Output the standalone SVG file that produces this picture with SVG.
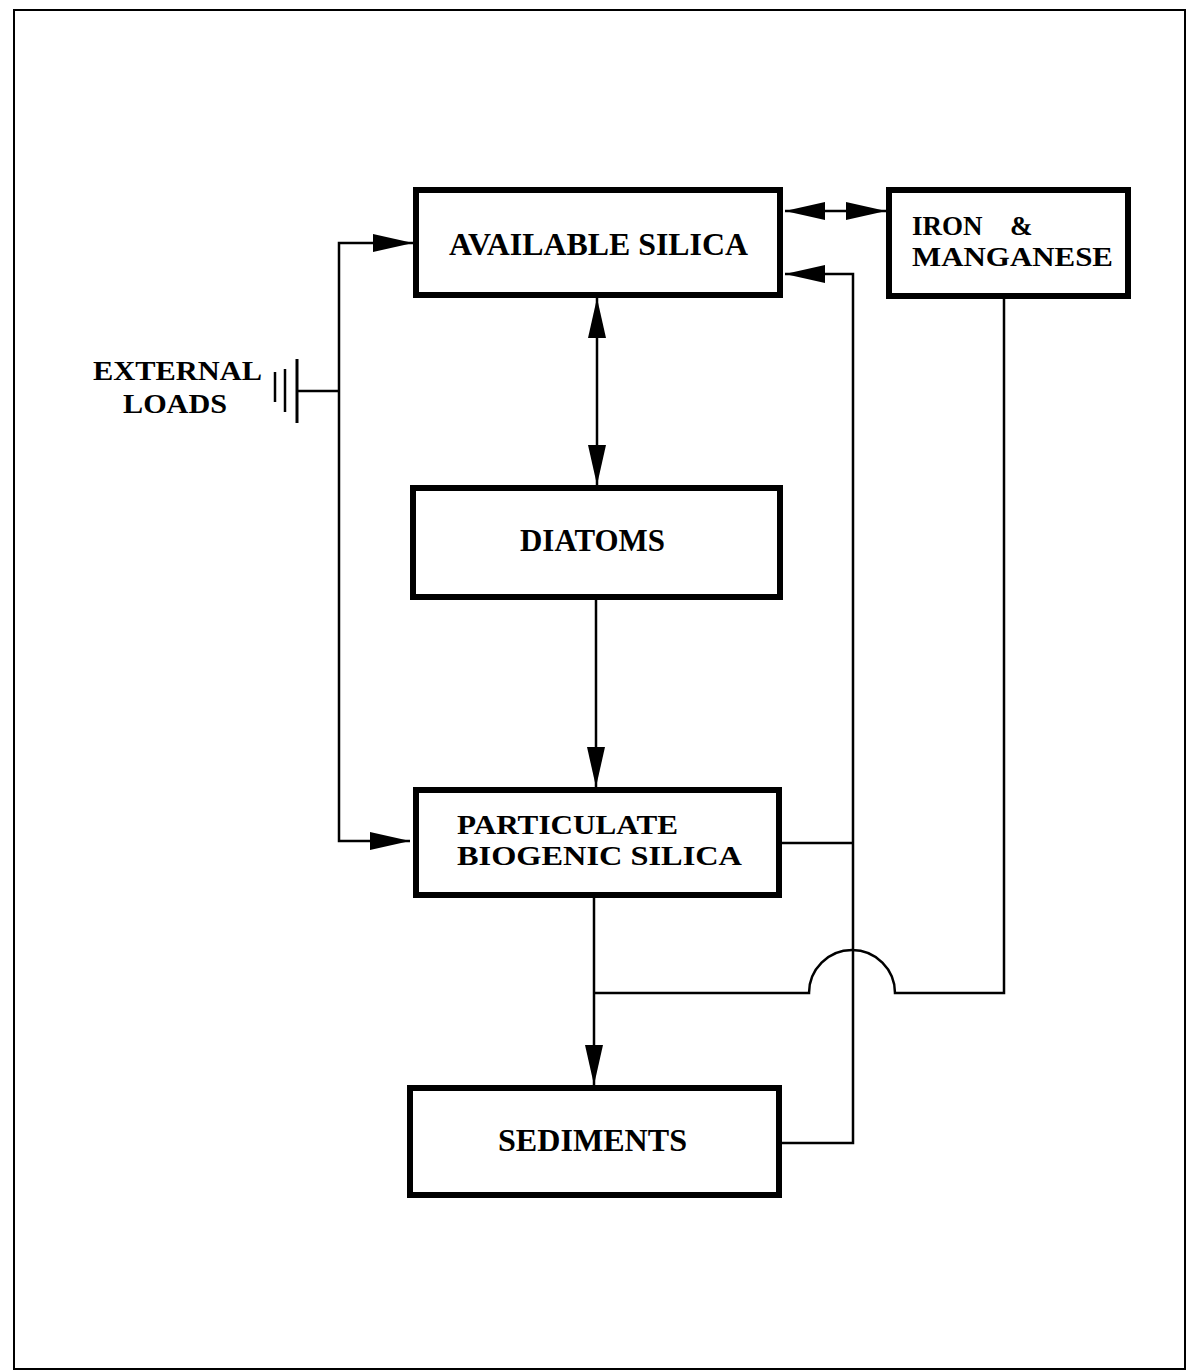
<svg xmlns="http://www.w3.org/2000/svg" width="1187" height="1372" viewBox="0 0 1187 1372">
<style>
.box{fill:#fff;stroke:#000;stroke-width:6}
.lbl{font-family:"Liberation Serif","Times New Roman",serif;font-weight:bold;font-size:31px;fill:#000}
.two{font-size:27px}
.ln{fill:none;stroke:#000;stroke-width:2.5}
.frame{fill:none;stroke:#000;stroke-width:2}
</style>
<defs>
<marker id="ah" viewBox="0 -10 40 20" refX="40" refY="0" markerWidth="40" markerHeight="20" markerUnits="userSpaceOnUse" orient="auto-start-reverse">
<path d="M0,-9 L40,0 L0,9 Z" fill="#000"/>
</marker>
</defs>
<rect class="frame" x="14" y="10" width="1171" height="1359"/>

<g id="connectors">
<polyline class="ln" points="297,391 339,391"/>
<polyline class="ln" points="413,243 339,243 339,841 410,841" marker-start="url(#ah)" marker-end="url(#ah)"/>
<line class="ln" x1="597" y1="298" x2="597" y2="485" marker-start="url(#ah)" marker-end="url(#ah)"/>
<line class="ln" x1="596" y1="600" x2="596" y2="787" marker-end="url(#ah)"/>
<line class="ln" x1="594" y1="898" x2="594" y2="1085" marker-end="url(#ah)"/>
<line class="ln" x1="785" y1="211" x2="886" y2="211" marker-start="url(#ah)" marker-end="url(#ah)"/>
<polyline class="ln" points="782,1143 853,1143 853,274 785,274" marker-end="url(#ah)"/>
<line class="ln" x1="782" y1="843" x2="853" y2="843"/>
<path class="ln" d="M594,993 L809,993 A43,43 0 0 1 895,993 L1004,993 L1004,299"/>
</g>

<g id="external-loads">
<line x1="275" y1="372" x2="275" y2="402" stroke="#000" stroke-width="2.5"/>
<line x1="285" y1="369" x2="285" y2="412" stroke="#000" stroke-width="2.5"/>
<line x1="297" y1="359" x2="297" y2="423" stroke="#000" stroke-width="3"/>
<text class="lbl two" x="93" y="380" textLength="169" lengthAdjust="spacingAndGlyphs">EXTERNAL</text>
<text class="lbl two" x="123" y="413" textLength="104" lengthAdjust="spacingAndGlyphs">LOADS</text>
</g>

<g id="available-silica">
<rect class="box" x="416" y="190" width="364" height="105"/>
<text class="lbl" x="449" y="255" textLength="299" lengthAdjust="spacingAndGlyphs">AVAILABLE SILICA</text>
</g>

<g id="iron-manganese">
<rect class="box" x="889" y="190" width="239" height="106"/>
<text class="lbl two" x="912" y="235">IRON <tspan x="1010">&amp;</tspan></text>
<text class="lbl two" x="912" y="266" textLength="201" lengthAdjust="spacingAndGlyphs">MANGANESE</text>
</g>

<g id="diatoms">
<rect class="box" x="413" y="488" width="367" height="109"/>
<text class="lbl" x="520" y="551" textLength="145" lengthAdjust="spacingAndGlyphs">DIATOMS</text>
</g>

<g id="particulate-biogenic-silica">
<rect class="box" x="416" y="790" width="363" height="105"/>
<text class="lbl two" x="457" y="834" textLength="221" lengthAdjust="spacingAndGlyphs">PARTICULATE</text>
<text class="lbl two" x="457" y="865" textLength="285" lengthAdjust="spacingAndGlyphs">BIOGENIC SILICA</text>
</g>

<g id="sediments">
<rect class="box" x="410" y="1088" width="369" height="107"/>
<text class="lbl" x="498" y="1151" textLength="189" lengthAdjust="spacingAndGlyphs">SEDIMENTS</text>
</g>
</svg>
